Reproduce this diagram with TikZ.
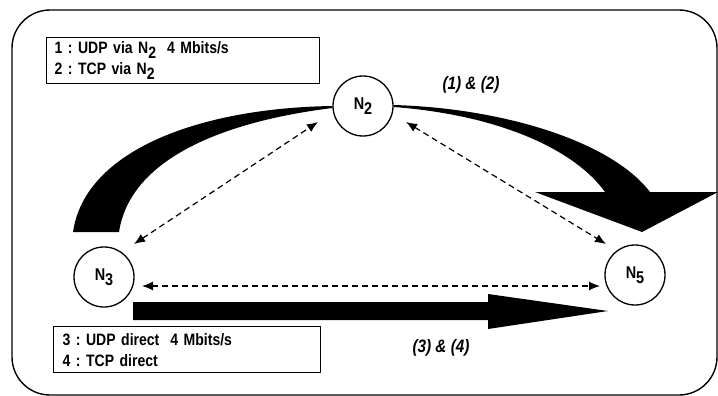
\documentclass[tikz,border=0pt]{standalone}
\usepackage{fontspec}
\setmainfont{Liberation Sans}
\newfontfamily\narrowsans[FakeStretch=0.85]{Liberation Sans}
\frenchspacing
\usetikzlibrary{arrows.meta}
\tikzset{
  frame/.style={draw, line width=1.4pt, rounded corners=38pt},
  station/.style={circle, draw, line width=1.3pt, minimum size=60pt, inner sep=0pt,
    font=\narrowsans\fontsize{17}{18}\selectfont\bfseries},
  legend/.style={draw, line width=1.3pt, anchor=north west, align=left, inner xsep=8pt,
    inner ysep=0pt, font=\narrowsans\fontsize{16.5}{21}\selectfont\bfseries},
  link/.style={dashed, line width=1.2pt, dash pattern=on 6pt off 4pt,
    {Latex[length=11pt,width=9pt]}-{Latex[length=11pt,width=9pt]}},
  flowlabel/.style={font=\narrowsans\fontsize{18}{20}\selectfont\bfseries\itshape},
}
\newcommand{\sub}[1]{\raisebox{-5pt}{#1}}
\begin{document}
\begin{tikzpicture}[x=1pt,y=-1pt]
\useasboundingbox (0,0) rectangle (718,396);
\draw[frame] (12,10) rectangle (717,395);

% legends
\node[legend, minimum width=273pt, minimum height=46pt, text width=257pt] (leg1) at (46,37)
  {1 : UDP via N\sub{2}\ \ 4 Mbits/s\\2 : TCP via N\sub{2}};
\node[legend, minimum width=267pt, minimum height=46pt, text width=249pt, inner xsep=9pt] (leg2) at (53,326)
  {3 : UDP direct\ \ 4 Mbits/s\\4 : TCP direct};

% stations
\node[station] (n2) at (363,106) {N\sub{2}};
\node[station] (n3) at (104,277) {N\sub{3}};
\node[station] (n5) at (635,275) {N\sub{5}};

% big curved flow (1) & (2)
\fill (73,232) .. controls (85,150) and (200,108) .. (n2.west)
  -- ([yshift=-2pt]n2.west) .. controls (220,122) and (130,160) .. (119,232) -- cycle;
\fill ([yshift=1pt]n2.east) .. controls (500,108) and (610,140) .. (650,192)
  -- (718,192) -- (642,232) -- (535,192) -- (605,192)
  .. controls (575,150) and (500,115) .. ([yshift=-1pt]n2.east) -- cycle;

% straight flow (3) & (4)
\fill (133,302) -- (488,302) -- (488,294) -- ([xshift=-27pt,yshift=-36pt]n5.center)
  -- (488,329) -- (488,320) -- (133,320) -- cycle;

% dashed links
\draw[link] ([xshift=30pt,yshift=33pt]n3.center) -- ([xshift=-45pt,yshift=-16pt]n2.center);
\draw[link] ([xshift=43pt,yshift=-16pt]n2.center) -- ([xshift=-29pt,yshift=31pt]n5.center);
\draw[link] ([xshift=38pt,yshift=-9pt]n3.center) -- ([xshift=-35pt,yshift=-11pt]n5.center);

% labels
\node[flowlabel] (l12) at (471,85) {(1) \& (2)};
\node[flowlabel] (l34) at (441,348) {(3) \& (4)};
\end{tikzpicture}
\end{document}
